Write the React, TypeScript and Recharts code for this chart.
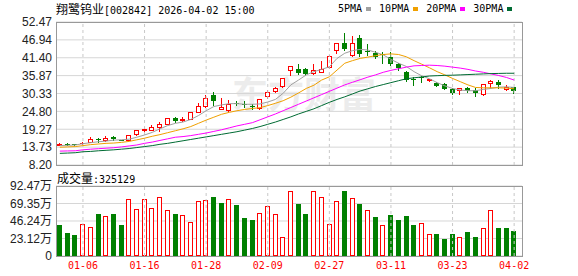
import { ComposedChart, Bar, Line, XAxis, YAxis, CartesianGrid, ReferenceLine } from 'recharts'

const dates = [
  '12-30', '12-31', '01-05', '01-06', '01-07', '01-08', '01-09', '01-12', '01-13', '01-14',
  '01-15', '01-16', '01-19', '01-20', '01-21', '01-22', '01-23', '01-26', '01-27', '01-28',
  '01-29', '01-30', '02-02', '02-03', '02-04', '02-05', '02-06', '02-09', '02-10', '02-11',
  '02-12', '02-13', '02-24', '02-25', '02-26', '02-27', '03-02', '03-03', '03-04', '03-05',
  '03-06', '03-09', '03-10', '03-11', '03-12', '03-13', '03-16', '03-17', '03-18', '03-19',
  '03-20', '03-23', '03-24', '03-25', '03-26', '03-27', '03-30', '03-31', '04-01', '04-02',
]
const tickDates = ['01-06', '01-16', '01-28', '02-09', '02-27', '03-11', '03-23', '04-02']

const openP = [
  14.5, 14.8, 14.65, 14.9, 15.3, 16.3, 15.8, 16.9, 15.95, 15.95,
  17.7, 19.1, 19.1, 20.1, 21.0, 22.6, 22.2, 22.5, 24.7, 26.6,
  29.9, 25.6, 25.1, 27.4, 27.2, 26.5, 25.95, 29.7, 31.0, 32.6,
  37.5, 37.9, 37.8, 36.6, 37.1, 38.45, 43.7, 45.9, 42.2, 47.5,
  43.35, 43.0, 42.45, 41.5, 39.5, 37.0, 34.8, 35.3, 34.4, 33.7,
  33.4, 31.6, 31.3, 31.95, 31.3, 30.1, 33.5, 34.0, 31.8, 32.25,
]
const highP = [
  14.9, 15.0, 14.8, 15.4, 16.8, 16.7, 17.1, 17.1, 16.0, 17.5,
  19.1, 19.9, 20.6, 21.4, 22.9, 23.0, 23.0, 24.6, 27.3, 29.9,
  30.9, 28.8, 28.2, 28.0, 28.0, 27.0, 28.6, 31.3, 32.2, 35.2,
  38.9, 39.4, 38.2, 39.4, 40.5, 42.3, 46.0, 49.2, 48.1, 48.4,
  45.7, 43.6, 43.3, 43.2, 39.7, 37.4, 35.5, 35.8, 34.8, 33.8,
  33.5, 32.1, 32.0, 32.4, 31.9, 33.4, 34.5, 34.5, 33.0, 32.5,
]
const lowP = [
  14.4, 14.4, 14.5, 14.8, 15.2, 15.4, 15.7, 16.0, 15.8, 15.9,
  17.6, 18.4, 19.0, 18.8, 20.9, 21.6, 21.8, 22.4, 24.6, 26.2,
  26.8, 25.5, 25.0, 26.8, 26.2, 25.6, 25.6, 28.8, 30.8, 32.5,
  36.1, 36.5, 36.0, 36.5, 37.0, 38.1, 43.0, 43.8, 42.0, 41.9,
  42.2, 41.2, 39.9, 39.3, 37.5, 34.3, 33.0, 33.9, 34.1, 32.6,
  31.7, 30.2, 30.2, 30.7, 29.7, 30.0, 32.5, 32.0, 31.4, 30.6,
]
const closeP = [
  14.7, 14.6, 14.55, 15.1, 16.4, 15.8, 16.6, 16.4, 15.85, 17.4,
  19.0, 19.3, 19.9, 21.0, 22.7, 21.9, 22.45, 24.5, 26.5, 28.9,
  28.0, 26.1, 27.1, 27.25, 27.05, 26.05, 28.5, 30.7, 32.0, 35.1,
  38.8, 36.8, 36.3, 37.5, 37.8, 41.95, 45.9, 44.1, 46.1, 42.5,
  43.1, 41.55, 42.25, 39.5, 38.2, 34.6, 34.5, 35.1, 34.7, 32.75,
  31.8, 30.6, 31.95, 31.2, 30.4, 33.3, 34.1, 33.05, 32.3, 31.2,
]

// 成交量, 万
const volume = [
  40.5, 29.8, 27.1, 41.8, 37.8, 55.1, 53.3, 55.1, 40.5, 75.1,
  61.8, 75.1, 63.1, 77.8, 60.5, 55.1, 53.8, 44.5, 72.5, 73.8,
  77.8, 70.2, 75.1, 67.1, 49.8, 47.1, 56.5, 65.8, 55.1, 24.5,
  85.8, 68.9, 55.1, 85.8, 77.8, 41.8, 72.5, 85.8, 76.5, 68.9,
  60.5, 51.1, 40.5, 53.8, 47.1, 52.5, 40.5, 43.1, 28.5, 28.5,
  23.1, 28.5, 24.5, 31.1, 24.5, 36.5, 60.5, 36.5, 36.5, 32.5129,
]
const volColor = 'gggrrgrggrrrrrrgrrrrggrgggrrrrrggrrrrgrgrgrggggrrgggrggrrggg'

const ma5 = [
  14.2, 14.3, 14.4, 14.8, 15.1, 15.4, 15.6, 15.9, 16.0, 16.2,
  16.8, 17.5, 18.3, 19.4, 20.4, 21.1, 21.5, 22.3, 23.5, 25.0,
  26.3, 26.8, 27.2, 27.2, 27.0, 27.0, 27.1, 27.7, 28.5, 30.4,
  33.0, 34.5, 36.1, 37.1, 37.8, 38.6, 41.2, 42.8, 43.6, 44.0,
  43.8, 43.1, 42.3, 40.9, 39.7, 38.7, 37.1, 35.8, 34.9, 33.7,
  32.7, 31.9, 31.4, 31.2, 31.2, 31.6, 31.9, 32.3, 32.4, 32.2,
]
const ma10 = [
  13.7, 13.8, 13.9, 14.2, 14.5, 14.7, 14.9, 15.0, 15.2, 15.5,
  16.0, 16.5, 17.1, 17.6, 18.2, 18.8, 19.4, 20.1, 21.1, 22.1,
  23.0, 23.9, 24.5, 25.0, 25.4, 25.7, 25.95, 26.6, 27.3, 28.1,
  29.2, 30.5, 31.9, 32.9, 34.5, 35.5, 37.6, 39.7, 40.5, 41.2,
  41.6, 42.05, 42.4, 42.6, 42.4, 41.7, 40.5, 39.4, 38.3, 37.1,
  36.1, 35.0, 34.0, 33.0, 32.2, 32.1, 32.1, 32.1, 32.0, 31.8,
]
const ma20 = [
  12.5, 12.55, 12.6, 12.9, 13.1, 13.25, 13.4, 13.55, 13.8, 14.1,
  14.4, 14.9, 15.3, 15.8, 16.3, 16.8, 17.0, 17.3, 17.7, 18.1,
  18.6, 19.1, 19.7, 20.3, 20.8, 21.3, 22.2, 23.1, 24.0, 25.0,
  26.0, 27.0, 28.0, 29.0, 30.0, 31.0, 32.0, 33.0, 33.8, 34.6,
  35.4, 36.1, 36.9, 37.5, 38.0, 38.5, 38.9, 39.0, 39.1, 39.0,
  38.8, 38.5, 38.2, 37.8, 37.3, 36.9, 36.4, 35.9, 35.3, 34.5,
]
const ma30 = [
  11.8, 11.9, 12.0, 12.3, 12.4, 12.6, 12.75, 12.9, 13.1, 13.3,
  13.6, 13.9, 14.2, 14.6, 14.9, 15.3, 15.7, 16.1, 16.5, 16.9,
  17.3, 17.7, 18.1, 18.5, 19.0, 19.5, 20.1, 20.8, 21.5, 22.3,
  23.1, 24.0, 24.8, 25.6, 26.6, 27.6, 28.5, 29.3, 30.2, 31.1,
  31.8, 32.5, 33.1, 33.7, 34.3, 34.9, 35.2, 35.45, 35.75, 35.85,
  35.95, 36.0, 36.1, 36.2, 36.3, 36.4, 36.5, 36.55, 36.6, 36.6,
]

const priceTicks = [8.2, 13.73, 19.27, 24.8, 30.33, 35.87, 41.4, 46.94, 52.47]
const volTicks = [0, 23.12, 46.24, 69.35, 92.47]

const RED = '#ff0000'
const GREEN = '#008000'
const MA_COLORS = ['#a0a0a0', '#f0a000', '#ff00ff', '#006b33']
const MA_NAMES = ['5PMA', '10PMA', '20PMA', '30PMA']

const rows = dates.map((date, i) => ({
  date,
  open: openP[i],
  high: highP[i],
  low: lowP[i],
  close: closeP[i],
  hl: [lowP[i], highP[i]],
  vol: volume[i],
  volUp: volColor[i] === 'r',
  ma5: ma5[i],
  ma10: ma10[i],
  ma20: ma20[i],
  ma30: ma30[i],
}))

const MONO = "'DejaVu Sans Mono', monospace"
const CJK = "'Noto Sans CJK SC', sans-serif"
const AXIS_FONT = "'Liberation Sans', 'Noto Sans CJK SC', sans-serif"

function Candle(props: any) {
  const { x, y, width, height, payload } = props
  if (x == null || !payload) return null
  const { open, close, high, low } = payload
  const top0 = Math.min(y, y + height)
  const h = Math.abs(height)
  const py = (v: number) => Math.round(top0 + ((high - v) / (high - low)) * h)
  const cx = Math.floor(x + width / 2)
  const yH = py(high)
  const yL = py(low)
  const bTop = py(Math.max(open, close))
  const bBot = py(Math.min(open, close))
  if (close >= open) {
    return (
      <g>
        <line x1={cx + 0.5} x2={cx + 0.5} y1={yH} y2={bTop} stroke={RED} />
        <line x1={cx + 0.5} x2={cx + 0.5} y1={bBot + 1} y2={yL + 1} stroke={RED} />
        {bBot - bTop < 1
          ? <line x1={cx - 2} x2={cx + 3} y1={bTop + 0.5} y2={bTop + 0.5} stroke={RED} />
          : <rect x={cx - 1.5} y={bTop + 0.5} width={4} height={bBot - bTop} fill="#fff" stroke={RED} />}
      </g>
    )
  }
  return (
    <g>
      <line x1={cx + 0.5} x2={cx + 0.5} y1={yH} y2={yL + 1} stroke={GREEN} />
      <rect x={cx - 2} y={bTop} width={5} height={Math.max(bBot - bTop, 1)} fill={GREEN} />
    </g>
  )
}

function VolBar(props: any) {
  const { x, y, width, height, payload } = props
  if (x == null || !payload) return null
  const cx = Math.floor(x + width / 2)
  const t = Math.round(y)
  const b = Math.round(y + height)
  if (payload.volUp) {
    return <rect x={cx - 1.5} y={t + 0.5} width={4} height={Math.max(b - t - 1, 0)} fill="#fff" stroke={RED} />
  }
  return <rect x={cx - 2} y={t} width={5} height={b - t} fill={GREEN} />
}

const frame = (top: number, height: number) => ({
  position: 'absolute' as const, left: 56, top, width: 467, height,
  border: '1px solid #999', boxSizing: 'border-box' as const, pointerEvents: 'none' as const,
})

export default function App() {
  return (
    <div style={{ position: 'absolute', left: 0, top: 0, width: 578, height: 276, background: '#fff', overflow: 'hidden' }}>
      {/* watermark */}
      <div style={{ position: 'absolute', left: 232, top: 66, fontFamily: CJK, fontSize: 36, fontWeight: 700, color: '#ececec', whiteSpace: 'nowrap' }}>
        东方财富
      </div>

      <div style={{ position: 'absolute', left: 56, top: 2, lineHeight: '14px', whiteSpace: 'pre', color: '#000' }}>
        <span style={{ fontFamily: CJK, fontSize: 12 }}>翔鹭钨业</span>
        <span style={{ fontFamily: MONO, fontSize: 10 }}>[002842] 2026-04-02 15:00</span>
      </div>

      <div style={{ position: 'absolute', left: 338, top: 2, display: 'flex', alignItems: 'center', lineHeight: '14px', whiteSpace: 'pre' }}>
        {MA_NAMES.map((n, i) => (
          <span key={n} style={{ display: 'flex', alignItems: 'center', marginRight: 8 }}>
            <span style={{ fontFamily: MONO, fontSize: 10, color: '#000' }}>{n}</span>
            <span style={{ display: 'inline-block', width: 5, height: 4, background: MA_COLORS[i], marginLeft: 4 }} />
          </span>
        ))}
      </div>

      <div style={{ position: 'absolute', left: 0, top: 0 }}>
        <ComposedChart width={578} height={176} data={rows} margin={{ top: 22, right: 56, bottom: 11, left: 0 }}>
          <CartesianGrid vertical={false} stroke="#d6d6d6" />
          {tickDates.map(d => (
            <ReferenceLine key={d} x={d} stroke="#c8c8c8" strokeDasharray="3 3" />
          ))}
          <XAxis dataKey="date" hide padding={{ left: 0, right: 4 }} />
          <YAxis
            type="number"
            domain={[8.2, 52.47]}
            ticks={priceTicks}
            interval={0}
            allowDataOverflow
            width={56}
            axisLine={false}
            tickLine={false}
            tickSize={0}
            tickMargin={4}
            tickFormatter={(v: number) => v.toFixed(2)}
            tick={{ fontSize: 12, fill: '#222', fontFamily: AXIS_FONT }}
          />
          <Bar dataKey="hl" barSize={5} shape={Candle} isAnimationActive={false} />
          <Line dataKey="ma5" stroke={MA_COLORS[0]} strokeWidth={1} dot={false} isAnimationActive={false} />
          <Line dataKey="ma10" stroke={MA_COLORS[1]} strokeWidth={1} dot={false} isAnimationActive={false} />
          <Line dataKey="ma20" stroke={MA_COLORS[2]} strokeWidth={1} dot={false} isAnimationActive={false} />
          <Line dataKey="ma30" stroke={MA_COLORS[3]} strokeWidth={1} dot={false} isAnimationActive={false} />
        </ComposedChart>
      </div>
      <div style={frame(22, 144)} />

      <div style={{ position: 'absolute', left: 57, top: 171, lineHeight: '14px', whiteSpace: 'pre', color: '#000' }}>
        <span style={{ fontFamily: CJK, fontSize: 12 }}>成交量</span>
        <span style={{ fontFamily: MONO, fontSize: 10 }}>:325129</span>
      </div>

      <div style={{ position: 'absolute', left: 0, top: 180 }}>
        <ComposedChart width={578} height={96} data={rows} margin={{ top: 6, right: 56, bottom: 0, left: 0 }}>
          <CartesianGrid vertical={false} stroke="#d6d6d6" />
          {tickDates.map(d => (
            <ReferenceLine key={d} x={d} stroke="#c8c8c8" strokeDasharray="3 3" />
          ))}
          <XAxis
            dataKey="date"
            ticks={tickDates}
            interval={0}
            height={20}
            padding={{ left: 0, right: 4 }}
            axisLine={false}
            tickLine={false}
            tickSize={0}
            tickMargin={6}
            tick={{ fontSize: 10, fill: RED, fontFamily: MONO }}
          />
          <YAxis
            type="number"
            domain={[0, 92.47]}
            ticks={volTicks}
            interval={0}
            allowDataOverflow
            width={56}
            axisLine={false}
            tickLine={false}
            tickSize={0}
            tickMargin={4}
            tickFormatter={(v: number) => (v === 0 ? '0' : `${v.toFixed(2)}万`)}
            tick={{ fontSize: 12, fill: '#222', fontFamily: AXIS_FONT }}
          />
          <Bar dataKey="vol" barSize={5} shape={VolBar} isAnimationActive={false} />
        </ComposedChart>
      </div>
      <div style={frame(186, 71)} />
    </div>
  )
}
